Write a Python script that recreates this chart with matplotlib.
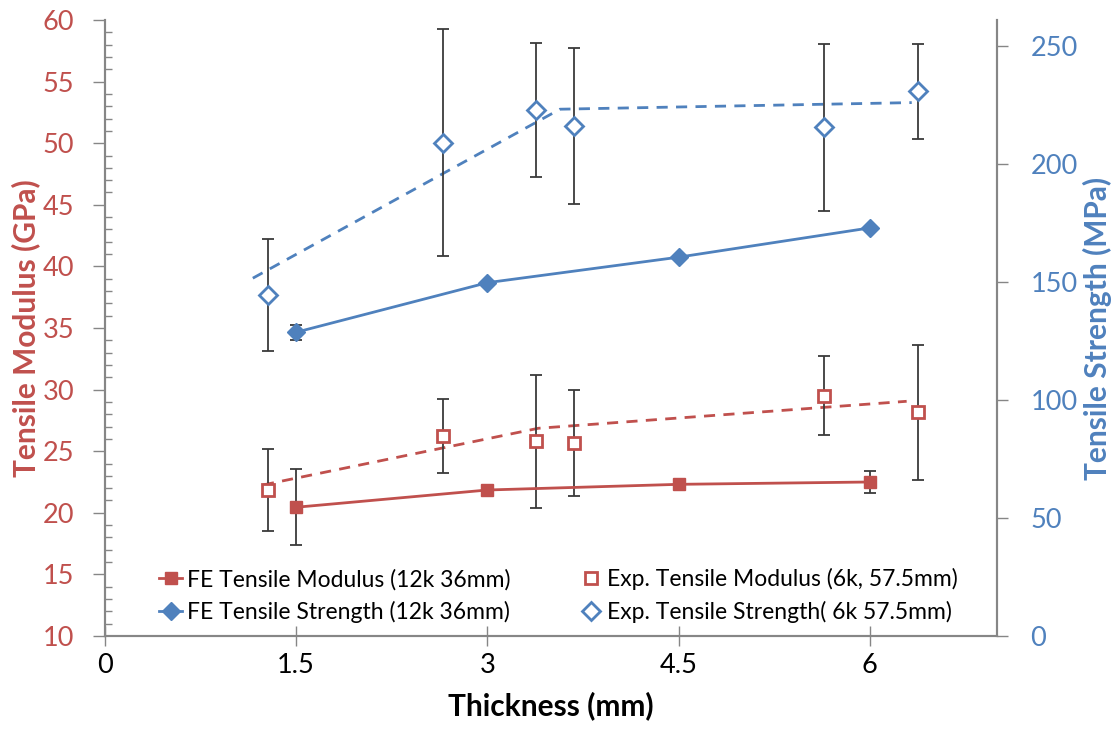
import matplotlib.pyplot as plt
from matplotlib.ticker import MultipleLocator

# thickness (mm)
thk_fe = [1.5, 3, 4.5, 6]
thk_exp = [1.28, 2.65, 3.38, 3.68, 5.64, 6.38]

# tensile modulus (GPa)
mod_fe = [20.45, 21.85, 22.31, 22.5]
mod_fe_err = [3.1, 0, 0, 0.93]
mod_exp = [21.85, 26.26, 25.8, 25.64, 29.51, 28.16]
mod_exp_err = [3.3, 3.0, 5.4, 4.3, 3.2, 5.5]

# tensile strength (MPa)
str_fe = [128.7, 149.7, 160.5, 172.9]
str_fe_err = [3.1, 0, 0, 0]
str_exp = [144.4, 209.0, 222.9, 216.1, 215.5, 230.8]
str_exp_err = [23.8, 48.0, 28.5, 32.9, 35.3, 20.2]

# dashed trend lines
mod_trend_x = [1.24, 3.4, 6.29]
mod_trend = [22.26, 26.86, 29.05]
str_trend_x = [1.16, 3.57, 6.33]
str_trend = [151.6, 223.2, 226.0]

red = '#C0504D'
blue = '#4F81BD'
grey = '#868686'
errc = '#3a3a3a'

plt.rcParams['font.family'] = ['Lato', 'DejaVu Sans']

fig = plt.figure(figsize=(11.19, 7.35), dpi=100)
ax = fig.add_axes([0.0938, 0.1347, 0.7973, 0.8381])
ax2 = ax.twinx()

# modulus (left axis)
ax.plot(mod_trend_x, mod_trend, '--', color=red, lw=2, dashes=(4, 3))
ax.errorbar(thk_fe, mod_fe, yerr=mod_fe_err, fmt='none', ecolor=errc, elinewidth=1.3, capsize=4, capthick=1.3)
ax.errorbar(thk_exp, mod_exp, yerr=mod_exp_err, fmt='none', ecolor=errc, elinewidth=1.3, capsize=4, capthick=1.3)
l1, = ax.plot(thk_fe, mod_fe, '-s', color=red, lw=2, ms=9, label='FE Tensile Modulus (12k 36mm)')
l3, = ax.plot(thk_exp, mod_exp, 's', color=red, ms=8, mfc='white', mew=2, ls='none',
              label='Exp. Tensile Modulus (6k, 57.5mm)')

# strength (right axis)
ax2.plot(str_trend_x, str_trend, '--', color=blue, lw=2, dashes=(4, 3))
ax2.errorbar(thk_fe, str_fe, yerr=str_fe_err, fmt='none', ecolor=errc, elinewidth=1.3, capsize=4, capthick=1.3)
ax2.errorbar(thk_exp, str_exp, yerr=str_exp_err, fmt='none', ecolor=errc, elinewidth=1.3, capsize=4, capthick=1.3)
l2, = ax2.plot(thk_fe, str_fe, '-D', color=blue, lw=2, ms=9, label='FE Tensile Strength (12k 36mm)')
l4, = ax2.plot(thk_exp, str_exp, 'D', color=blue, ms=9, mfc='white', mew=2, ls='none',
               label='Exp. Tensile Strength( 6k 57.5mm)')

ax.set_xlim(0, 7)
ax.set_ylim(10, 60)
ax2.set_ylim(0, 261)
ax.set_xticks([0, 1.5, 3, 4.5, 6])
ax.set_xticklabels(['0', '1.5', '3', '4.5', '6'])
ax.yaxis.set_major_locator(MultipleLocator(5))
ax.yaxis.set_minor_locator(MultipleLocator(1))
ax2.yaxis.set_major_locator(MultipleLocator(50))

for a in (ax, ax2):
    a.spines['top'].set_visible(False)
    for s in ('left', 'right', 'bottom'):
        a.spines[s].set_color(grey)
        a.spines[s].set_linewidth(1.5)

ax.tick_params(axis='x', direction='inout', length=14, width=1, color=grey, labelsize=19.5, pad=5)
ax.tick_params(axis='y', which='major', direction='out', length=9, width=1, color=grey,
               labelsize=19.5, labelcolor=red, pad=13)
ax.tick_params(axis='y', which='minor', direction='in', length=5, width=1, color=grey)
ax2.tick_params(axis='y', direction='out', length=8, width=1, color=grey, labelsize=19.5,
                labelcolor=blue, pad=16)

ax.set_xlabel('Thickness (mm)', fontsize=21.5, fontweight='bold', labelpad=10)
ax.set_ylabel('Tensile Modulus (GPa)', fontsize=21.5, fontweight='bold', color=red, labelpad=2)
ax2.set_ylabel('Tensile Strength (MPa)', fontsize=21.5, fontweight='bold', color=blue, labelpad=4)

ax2.legend([l1, l2, l3, l4], [l1.get_label(), l2.get_label(), l3.get_label(), l4.get_label()],
           ncol=2, loc='lower left', bbox_to_anchor=(0.038, -0.012), frameon=False, fontsize=16.5,
           handlelength=1.0, handletextpad=0.2, columnspacing=3.0, labelspacing=0.45)

fig.savefig('out.png', dpi=100)
